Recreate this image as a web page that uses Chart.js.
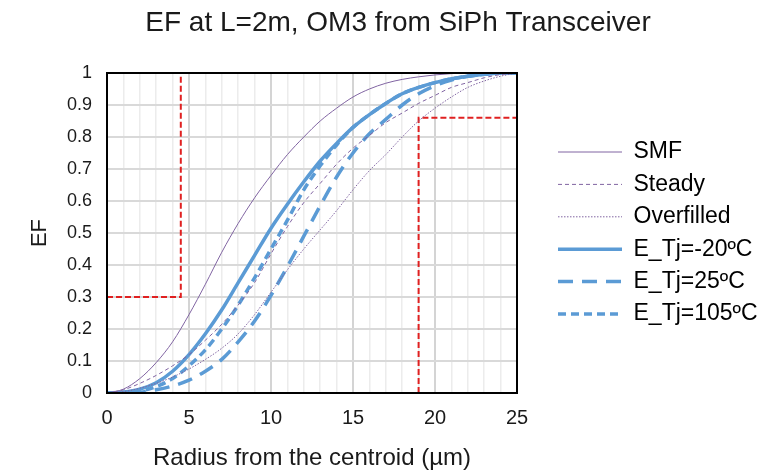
<!DOCTYPE html>
<html lang="en">
<head>
  <meta charset="UTF-8">
  <title>EF at L=2m, OM3 from SiPh Transceiver</title>
  <script src="https://cdn.jsdelivr.net/npm/chart.js"></script>
  <style>
    body { margin: 0; background: #fff; }
    #wrap { width: 769px; height: 473px; }
  </style>
</head>
<body>
  <div id="wrap"><canvas id="efChart" width="769" height="473"></canvas></div>

  <script>
    // radius (um) and encircled flux
    const radius = [0,1,2,3,4,5,6,7,8,9,10,11,12,13,14,15,16,17,18,19,20,21,22,23,24,25];
    const efSmf        = [0,0.012,0.045,0.095,0.16,0.245,0.34,0.44,0.53,0.61,0.68,0.745,0.80,0.85,0.89,0.925,0.95,0.968,0.98,0.988,0.994,0.998,1,1,1,1];
    const efSteady     = [0,0.01,0.03,0.055,0.085,0.12,0.165,0.215,0.275,0.345,0.435,0.52,0.595,0.655,0.715,0.765,0.805,0.845,0.875,0.905,0.93,0.955,0.97,0.985,0.995,1];
    const efOverfilled = [0,0.004,0.015,0.03,0.05,0.075,0.105,0.14,0.185,0.245,0.315,0.385,0.45,0.51,0.57,0.635,0.695,0.745,0.80,0.85,0.89,0.925,0.955,0.975,0.99,1];
    const efTjM20      = [0,0.003,0.012,0.032,0.068,0.12,0.185,0.26,0.345,0.43,0.515,0.59,0.66,0.725,0.78,0.83,0.87,0.905,0.935,0.955,0.97,0.982,0.99,0.996,1,1];
    const efTj25       = [0,0,0.002,0.01,0.022,0.04,0.068,0.105,0.16,0.225,0.305,0.395,0.49,0.585,0.675,0.75,0.81,0.855,0.9,0.935,0.96,0.978,0.99,0.996,1,1];
    const efTj105      = [0,0.001,0.006,0.02,0.045,0.085,0.135,0.2,0.275,0.36,0.45,0.54,0.635,0.71,0.775,0.83,0.87,0.905,0.935,0.955,0.97,0.982,0.99,0.996,1,1];

    // OM3 encircled flux template (red dashed)
    const specLowX  = [0, 4.5, 4.5];
    const specLowY  = [0.3, 0.3, 1];
    const specHighX = [19, 19, 25];
    const specHighY = [0, 0.86, 0.86];

    const xTickLabels = [0, 5, 10, 15, 20, 25];
    const yTickLabels = ['0','0.1','0.2','0.3','0.4','0.5','0.6','0.7','0.8','0.9','1'];

    const FONT = '"Liberation Sans", Arial, sans-serif';
    const BLUE = '#5b9bd5', PURPLE = '#8064a2', RED = '#e02020';

    const pts = (xs, ys) => xs.map((x, i) => ({ x: x, y: ys[i] }));
    const curve = (label, ys, color, width, dash) => ({
      label: label, data: pts(radius, ys), borderColor: color, backgroundColor: color,
      borderWidth: width, borderDash: dash, pointRadius: 0, cubicInterpolationMode: 'monotone', fill: false
    });
    const spec = (xs, ys) => ({
      label: '', data: pts(xs, ys), borderColor: RED, borderWidth: 2, borderDash: [6, 3],
      pointRadius: 0, tension: 0, fill: false
    });

    // fixed legend width + move its items off the plot edge
    const legendBox = {
      id: 'legendBox',
      beforeLayout(chart) {
        const lg = chart.legend;
        if (lg && !lg._patched) {
          const fit = lg.fit;
          lg.fit = function () { fit.call(this); this.width = 252; };
          lg._patched = true;
        }
      },
      afterLayout(chart) {
        chart.legend.left += 31.6;
      }
    };
    // black frame round the plot area
    const frame = {
      id: 'frame',
      afterDatasetsDraw(chart) {
        const { ctx, chartArea: a } = chart;
        ctx.save();
        ctx.strokeStyle = '#000';
        ctx.lineWidth = 2;
        ctx.strokeRect(a.left, a.top, a.right - a.left, a.bottom - a.top);
        ctx.restore();
      }
    };

    Chart.defaults.font.family = FONT;
    Chart.defaults.color = '#1a1a1a';

    new Chart(document.getElementById('efChart'), {
      type: 'line',
      data: {
        datasets: [
          curve('SMF', efSmf, PURPLE, 1, []),
          curve('Steady', efSteady, PURPLE, 1, [4, 3]),
          curve('Overfilled', efOverfilled, PURPLE, 1, [1.5, 1.5]),
          curve('E_Tj=-20ºC', efTjM20, BLUE, 3.5, []),
          curve('E_Tj=25ºC', efTj25, BLUE, 3.5, [15, 9]),
          curve('E_Tj=105ºC', efTj105, BLUE, 3.5, [8, 5]),
          spec(specLowX, specLowY),
          spec(specHighX, specHighY)
        ]
      },
      options: {
        responsive: false,
        animation: false,
        devicePixelRatio: 1,
        layout: { padding: { left: 27, right: 0, top: 0, bottom: 0 } },
        scales: {
          x: {
            type: 'linear', min: 0, max: 25,
            afterFit: s => { s.height = 80; },
            border: { display: false },
            grid: {
              drawTicks: false,
              color: c => xTickLabels.includes(c.tick.value) ? '#d4d4d4' : '#ececec',
              lineWidth: c => xTickLabels.includes(c.tick.value) ? 2 : 1.5
            },
            ticks: {
              stepSize: 1, autoSkip: false, maxRotation: 0, padding: 13,
              font: { size: 20 }, color: '#1a1a1a',
              callback: v => xTickLabels.includes(v) ? String(v) : ''
            },
            title: {
              display: true, text: 'Radius from the centroid (µm)',
              font: { size: 24 }, color: '#1a1a1a', padding: { top: 0, bottom: 0 }
            }
          },
          y: {
            min: 0, max: 1,
            afterFit: s => { s.width = 80; },
            border: { display: false },
            grid: { drawTicks: false, color: '#d9d9d9', lineWidth: 2 },
            ticks: {
              stepSize: 0.1, padding: 15, font: { size: 18 }, color: '#1a1a1a',
              callback: v => yTickLabels[Math.round(v * 10)]
            },
            title: {
              display: true, text: 'EF',
              font: { size: 22 }, color: '#1a1a1a', padding: { top: 0, bottom: 0 }
            }
          }
        },
        plugins: {
          title: {
            display: true, text: 'EF at L=2m, OM3 from SiPh Transceiver',
            font: { size: 28, weight: 'normal' }, color: '#1a1a1a',
            padding: { top: 6, bottom: 33.4 }
          },
          legend: {
            position: 'right', align: 'center', fullSize: false,
            labels: {
              usePointStyle: true, pointStyle: 'line', pointStyleWidth: 64,
              padding: 9.4, font: { size: 23 }, color: '#1a1a1a',
              // line samples carry each dataset's own width and dash
              generateLabels: chart => chart.data.datasets
                .map((ds, i) => ({
                  text: ds.label, datasetIndex: i, hidden: false,
                  strokeStyle: ds.borderColor, fillStyle: ds.borderColor,
                  lineWidth: ds.borderWidth, lineDash: ds.borderDash, pointStyle: 'line'
                }))
                .filter(item => item.text !== '')
            }
          },
          tooltip: { enabled: false }
        }
      },
      plugins: [legendBox, frame]
    });
  </script>
</body>
</html>
